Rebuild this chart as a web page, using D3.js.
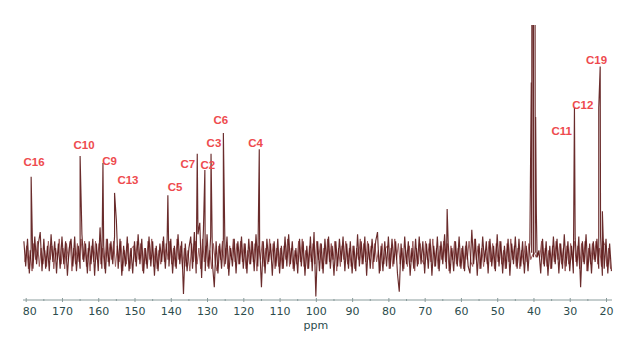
<!doctype html>
<html>
<head>
<meta charset="utf-8">
<style>
  body { margin: 0; background: #fff; }
  .tick text { font-family: "DejaVu Sans", sans-serif; }
</style>
<script src="https://d3js.org/d3.v7.min.js"></script>
</head>
<body>
<svg id="nmr" width="624" height="337"></svg>
<script>
// baseline noise, one value every 0.5 ppm from 180.5 down to 18.5
var noiseStart = 180.5, noiseStep = 0.5;
var noise = [
  6,-5,7,-8,3,-6,8,-4,5,10,-7,7,-6,4,-7,9,-3,6,-8,5,
  -6,8,-4,6,-9,3,7,-5,8,-7,4,-6,9,-3,5,-8,6,-4,7,-9,
  5,-7,12,-6,4,-8,7,-5,6,-4,8,15,-6,7,-9,4,-5,8,-7,3,
  -8,6,-5,9,-4,7,-8,3,-6,8,-5,6,-9,4,-7,5,-3,8,-6,7,
  -5,7,-8,4,-6,9,-4,6,-17,5,-7,3,8,-6,10,-8,9,14,-10,11,
  -7,9,-6,8,-4,-14,6,-8,5,-6,7,-4,8,-9,3,-5,7,-8,6,-4,
  8,-6,5,-8,7,-4,6,-7,9,-5,4,-14,6,-8,7,-3,5,-9,6,-5,
  7,-8,4,-6,8,-5,9,-4,6,-7,3,-8,7,-5,6,-9,4,-6,8,-7,
  10,-18,6,-7,5,-8,7,-4,8,-6,4,-9,6,-5,7,-3,8,-7,5,-6,
  6,-8,4,-7,9,-5,6,-4,8,-9,5,-6,7,-3,6,10,-8,4,-7,6,
  -5,8,-6,7,-4,6,-8,-16,5,-7,8,-4,6,-9,3,-6,7,-5,8,-4,
  6,-8,5,-6,7,-9,4,-5,8,-7,6,-4,9,-6,5,-8,3,-7,6,-5,
  8,-6,4,-7,6,-5,-8,11,-4,7,-9,5,-6,8,-3,6,-8,7,-5,4,
  -7,9,-5,6,-8,4,-6,7,-9,5,-4,8,-6,7,-5,6,-8,4,-7,5,
  1,-1,1,-1,2,-8,7,-5,6,-9,4,-6,8,-4,7,-8,5,-6,9,-5,
  6,-7,4,-8,7,-5,8,-14,6,-4,9,-7,5,-8,6,-3,7,-6,8,-9,
  -6,7,-8,5,-7
];
// a second noise trace offset by a quarter ppm, fills the band in between
var noise2 = [
  -3,4,-6,2,-7,5,-2,6,-5,3,-4,2,-5,6,-2,4,-6,3,-2,7,
  -4,3,-6,5,-2,6,-7,3,-4,5,-3,7,-2,6,-5,3,-7,4,-3,6,
  -2,5,-4,3,-6,7,-3,5,-2,6,-5,4,-3,6,-7,2,-4,5,-6,3,
  4,-3,6,-2,5,-7,3,-4,6,-2,7,-5,3,-6,2,-4,6,-3,5,-2,
  6,-4,3,-5,7,-2,4,-6,3,-5,2,-7,5,-3,6,-4,3,-6,7,-3,
  4,-5,2,-6,5,-3,-7,4,-2,6,-5,3,-6,4,-2,7,-3,5,-4,6,
  -3,5,-6,2,-4,6,-3,5,-7,4,-2,6,-5,3,-4,7,-2,5,-6,3,
  -5,3,-6,4,-2,7,-5,3,-6,2,-4,6,-3,7,-5,2,-6,4,-3,5,
  -4,6,-2,5,-6,3,-4,7,-3,5,-2,6,-7,3,-5,4,-2,6,-4,3,
  -5,4,-6,3,-2,7,-4,5,-3,6,-2,4,-6,5,-3,2,-7,5,-4,3,
  4,-6,3,-5,7,-2,5,-4,3,-6,2,-5,4,-3,6,-7,3,-4,5,-2,
  -4,6,-2,5,-3,7,-5,3,-6,4,-2,6,-3,5,-7,4,-2,6,-4,3,
  -5,3,-6,4,-2,6,-3,-5,7,-2,4,-6,3,-5,2,-4,6,-3,5,-6,
  5,-3,6,-4,2,-6,5,-3,7,-2,4,-5,3,-6,2,-4,6,-3,5,-2,
  0,1,-1,1,-1,6,-4,3,-5,2,-6,4,-3,6,-2,5,-4,3,-7,4,
  -4,5,-2,6,-3,4,-6,5,-3,6,-7,3,-4,5,-2,6,-4,3,-5,6,
  4,-5,3,-6
];

// peaks (ppm, intensity); 100 = top of the plot
var peakPpm    = [178.5, 165.0, 158.7, 155.5, 140.8, 132.7, 130.6, 128.9, 125.5, 115.6, 63.8,
                  40.6, 40.4, 40.2, 40.0, 39.8, 39.6, 39.4, 39.2, 28.7, 22.0, 21.6, 21.0];
var peakHeight = [34, 43, 40, 27, 26, 44, 37, 44, 53, 46, 20,
                  75, 200, 200, 200, 200, 200, 60, 18, 64, 64, 82, 19];

// assignments
var labelText = ["C16", "C10", "C9", "C13", "C5", "C7", "C2", "C3", "C6", "C4", "C11", "C12", "C19"];
var labelPpm  = [177.7, 163.9, 156.9, 151.8, 138.8, 135.3, 129.8, 128.1, 126.2, 116.6, 32.2, 26.4, 22.6];
var labelInt  = [38.7, 46, 39, 31, 28, 38, 37.4, 47, 57, 47, 52, 63.5, 83];

var axisTicks = [180, 170, 160, 150, 140, 130, 120, 110, 100, 90, 80, 70, 60, 50, 40, 30, 20];
var minorTicks = [175, 165, 155, 145, 135, 125, 115, 105, 95, 85, 75, 65, 55, 45, 35, 25];

var svg = d3.select("#nmr");

var x = d3.scaleLinear().domain([180, 20]).range([25.7, 606]);
var y = d3.scaleLinear().domain([0, 100]).range([255, 25]);

var defs = svg.append("defs");
defs.append("clipPath").attr("id", "view")
  .append("rect").attr("x", 23).attr("y", 25).attr("width", 594).attr("height", 312);
defs.append("clipPath").attr("id", "all")
  .append("rect").attr("x", 23).attr("y", 0).attr("width", 601).attr("height", 337);

var line = d3.line()
  .x(function(d) { return x(d[0]); })
  .y(function(d) { return y(d[1]); });

var pts2 = noise2.map(function(v, i) { return [noiseStart - 0.25 - i * noiseStep, v]; });
var pts = noise.map(function(v, i) { return [noiseStart - i * noiseStep, v]; });
peakPpm.forEach(function(p, i) { pts.push([p, peakHeight[i]]); });
pts.sort(function(a, b) { return b[0] - a[0]; });

svg.append("path")
  .datum(pts2)
  .attr("clip-path", "url(#view)")
  .attr("d", line)
  .attr("fill", "none")
  .attr("stroke", "#9a5c5c")
  .attr("stroke-width", 1);

svg.append("path")
  .datum(pts)
  .attr("clip-path", "url(#view)")
  .attr("d", line)
  .attr("fill", "none")
  .attr("stroke", "#5a1515")
  .attr("stroke-width", 1.15)
  .attr("stroke-opacity", 0.9);

var g = svg.append("g").attr("clip-path", "url(#all)");

var ax = g.append("g")
  .attr("transform", "translate(0,300)")
  .call(d3.axisBottom(x).tickValues(axisTicks).tickSize(2).tickPadding(5).tickSizeOuter(0));
ax.select(".domain").attr("stroke", "#8a9c9c").attr("d", "M23,0H612");
ax.selectAll(".tick line").attr("stroke", "#8a9c9c").attr("y1", -2);
ax.selectAll(".tick text").attr("fill", "#2c4c4c").attr("font-size", 11);

g.selectAll(".minor")
  .data(minorTicks)
  .enter().append("line")
  .attr("x1", function(d) { return x(d); })
  .attr("x2", function(d) { return x(d); })
  .attr("y1", 299).attr("y2", 301)
  .attr("stroke", "#8a9c9c");

svg.append("text")
  .attr("x", x(100)).attr("y", 329)
  .attr("text-anchor", "middle")
  .attr("font-family", "DejaVu Sans, sans-serif")
  .attr("font-size", 11)
  .attr("fill", "#2c4c4c")
  .text("ppm");

g.selectAll(".lbl")
  .data(labelText)
  .enter().append("text")
  .attr("x", function(d, i) { return x(labelPpm[i]); })
  .attr("y", function(d, i) { return y(labelInt[i]); })
  .attr("text-anchor", "middle")
  .attr("font-family", "Liberation Sans, Arial, sans-serif")
  .attr("font-weight", "bold")
  .attr("font-size", 11.5)
  .attr("fill", "#ee4a4e")
  .text(function(d) { return d; });
</script>
</body>
</html>
